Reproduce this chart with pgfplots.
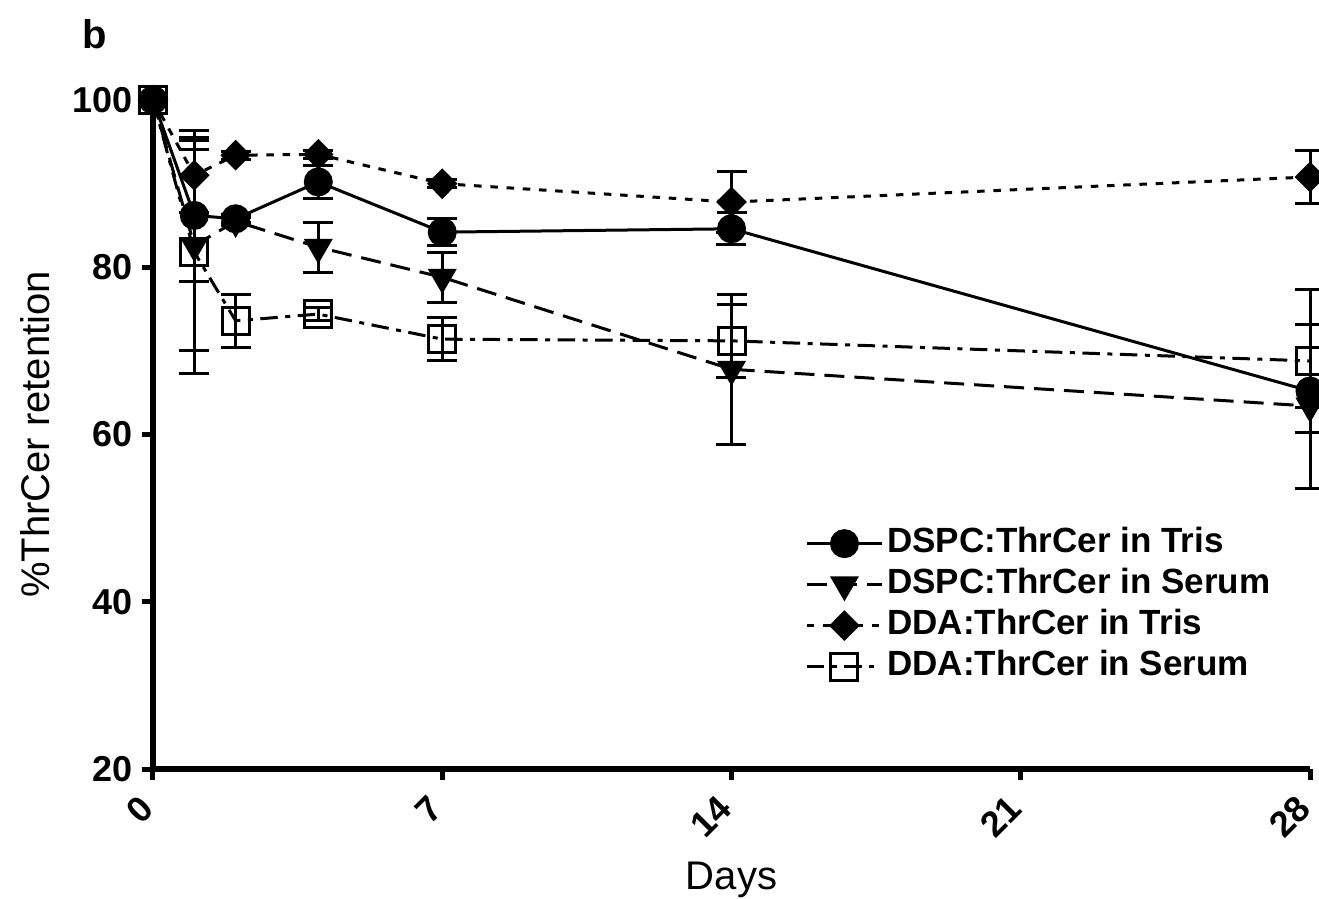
\documentclass[border=0pt]{standalone}
\usepackage{fontspec}
\setmainfont{Liberation Sans}
\usepackage{pgfplots}
\pgfplotsset{compat=1.18}

\begin{document}
\begin{tikzpicture}
\begin{axis}[
  at={(0,0)}, anchor=south west,
  scale only axis,
  width=462.8pt, height=267.6pt,
  xmin=0, xmax=28, ymin=20, ymax=100,
  xtick={0,7,14,21,28},
  ytick={20,40,60,80,100},
  axis x line*=bottom, axis y line*=left,
  axis line style={line width=2.4pt,-},
  tick style={line width=2pt,black},
  major tick length=4.5pt,
  tick align=outside,
  clip=false,
  /pgf/number format/assume math mode=true,
  ticklabel style={font=\fontsize{14.4}{16}\selectfont\bfseries},
  xticklabel style={rotate=45, anchor=east},
  xticklabel shift=6.5pt,
  xlabel={Days},
  ylabel={\%ThrCer retention},
  label style={font=\fontsize{16}{18}\selectfont},
  xlabel style={at={(axis description cs:0.5,0)}, anchor=center, yshift=-44.5pt},
  ylabel style={at={(axis description cs:0,0.5)}, anchor=center, rotate=0, yshift=47.2pt},
  legend cell align=left,
  legend style={
    at={(axis description cs:0.557,0.375)}, anchor=north west,
    draw=none, fill=none,
    font=\fontsize{14}{16}\selectfont\bfseries,
    row sep=0.4pt,
    nodes={inner sep=1.5pt, text height=10pt, text depth=3pt},
  },
  legend image code/.code={
    \draw[mark repeat=2,mark phase=2,#1] plot coordinates {(0pt,0pt) (15pt,0pt) (30pt,0pt)};
  },
  every axis plot/.append style={black, line width=1.2pt},
  error bars/error bar style={black, line width=1.2pt, solid},
  error bars/error mark options={black, rotate=90, mark size=6pt, line width=1.2pt, solid},
]

% DSPC:ThrCer in Tris
\addplot[black, solid, mark=*, mark size=5.2pt, mark options={solid, fill=black},
  error bars/.cd, y dir=both, y explicit] coordinates {
  (0,100) +- (0,0)
  (1,86.2) +- (0,7.9)
  (2,85.8) +- (0,0.5)
  (4,90.2) +- (0,2.0)
  (7,84.2) +- (0,1.6)
  (14,84.6) +- (0,1.9)
  (28,65.2) +- (0,2.0)
};
\addlegendentry{DSPC:ThrCer in Tris}

% DSPC:ThrCer in Serum
\addplot[black, dash pattern=on 8pt off 4pt, mark=triangle*, mark size=5.5pt,
  mark options={solid, fill=black, rotate=180},
  error bars/.cd, y dir=both, y explicit] coordinates {
  (0,100) +- (0,0)
  (1,82.6) +- (0,12.5)
  (2,85.5) +- (0,0.5)
  (4,82.4) +- (0,3.0)
  (7,78.8) +- (0,3.0)
  (14,67.8) +- (0,9.0)
  (28,63.4) +- (0,9.8)
};
\addlegendentry{DSPC:ThrCer in Serum}

% DDA:ThrCer in Tris
\addplot[black, dash pattern=on 3pt off 3.5pt, mark=diamond*, mark size=5.3pt,
  mark options={solid, fill=black, xscale=1.33},
  error bars/.cd, y dir=both, y explicit] coordinates {
  (0,100) +- (0,0)
  (1,91.0) +- (0,4.5)
  (2,93.4) +- (0,0.5)
  (4,93.5) +- (0,0.5)
  (7,90.0) +- (0,0.5)
  (14,87.8) +- (0,3.6)
  (28,90.8) +- (0,3.2)
};
\addlegendentry{DDA:ThrCer in Tris}

% DDA:ThrCer in Serum
\addplot[black, dash pattern=on 7pt off 3pt on 2pt off 3pt, mark=square, mark size=5.4pt,
  mark options={solid, fill=none},
  error bars/.cd, y dir=both, y explicit] coordinates {
  (0,100) +- (0,0)
  (1,81.8) +- (0,14.5)
  (2,73.6) +- (0,3.2)
  (4,74.4) +- (0,0.8)
  (7,71.4) +- (0,2.6)
  (14,71.2) +- (0,4.4)
  (28,68.8) +- (0,8.6)
};
\addlegendentry{DDA:ThrCer in Serum}
\end{axis}
\node[font=\fontsize{16}{18}\selectfont\bfseries] at (-23.2pt,294pt) {b};
\pgfresetboundingbox
\useasboundingbox (-61.2pt,-51.6pt) rectangle (466.4pt,307.6pt);
\end{tikzpicture}
\end{document}
